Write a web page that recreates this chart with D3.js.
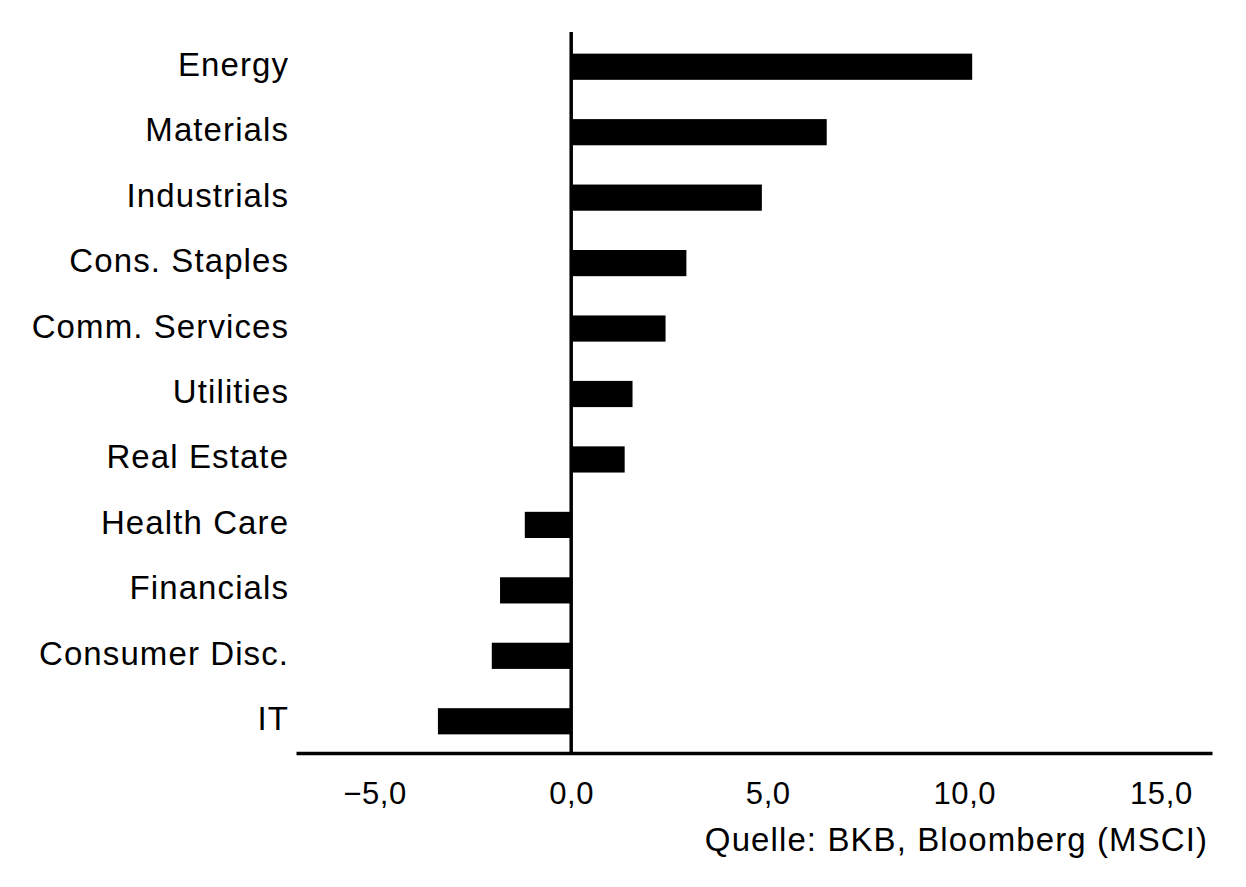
<!DOCTYPE html>
<html>
<head>
<meta charset="utf-8">
<script src="https://cdn.jsdelivr.net/npm/d3@7"></script>
<style>
  html, body { margin: 0; padding: 0; background: #fff; }
  svg { display: block; }
  text { font-family: "Liberation Sans", Arial, sans-serif; fill: #000; }
</style>
</head>
<body>
<svg id="chart" width="1246" height="887"></svg>
<script>
const categories = ["Energy", "Materials", "Industrials", "Cons. Staples", "Comm. Services",
  "Utilities", "Real Estate", "Health Care", "Financials", "Consumer Disc.", "IT"];
const values = [10.2, 6.5, 4.85, 2.93, 2.4, 1.56, 1.36, -1.18, -1.81, -2.02, -3.39];
const tickValues = [-5, 0, 5, 10, 15];
const sourceText = "Quelle: BKB, Bloomberg (MSCI)";

const svg = d3.select("#chart");
const locale = d3.formatLocale({ decimal: ",", thousands: ".", grouping: [3], currency: ["", ""], minus: "\u2212" });
const fmt = locale.format(".1f");

const x = d3.scaleLinear().domain([-7, 16.3]).range([296, 1212]);
const y = d3.scaleBand().domain(categories).range([34, 754]).paddingInner(0.6).paddingOuter(0.3);

const ls = 1.1;

// bars
svg.append("g").selectAll("rect").data(categories).join("rect")
  .attr("x", (d, i) => Math.min(x(0), x(values[i])))
  .attr("y", d => y(d))
  .attr("width", (d, i) => Math.abs(x(values[i]) - x(0)))
  .attr("height", y.bandwidth())
  .attr("fill", "#000");

// category labels
svg.append("g").selectAll("text").data(categories).join("text")
  .attr("x", 288 + ls)
  .attr("y", d => y(d) + y.bandwidth() / 2 + 9)
  .attr("text-anchor", "end")
  .style("font-size", "33px")
  .style("letter-spacing", ls + "px")
  .text(d => d);

// x axis
const xAxis = d3.axisBottom(x).tickValues(tickValues).tickSize(0).tickPadding(0).tickFormat(fmt);
const gx = svg.append("g").attr("transform", "translate(0,753)").call(xAxis);
gx.select(".domain").attr("stroke", "#000").attr("stroke-width", 3.5);
gx.selectAll(".tick text")
  .attr("y", 0).attr("dy", 0)
  .attr("transform", "translate(0,51)")
  .style("font-size", "31px")
  .style("letter-spacing", "0.6px")
  .style("font-family", "'Liberation Sans', Arial, sans-serif")
  .attr("fill", "#000");

// zero line
svg.append("line")
  .attr("x1", x(0)).attr("x2", x(0))
  .attr("y1", 32).attr("y2", 753)
  .attr("stroke", "#000").attr("stroke-width", 3.5);

// source
svg.append("text")
  .attr("x", 1207 + ls).attr("y", 851)
  .attr("text-anchor", "end")
  .style("font-size", "33px")
  .style("letter-spacing", ls + "px")
  .text(sourceText);
</script>
</body>
</html>
